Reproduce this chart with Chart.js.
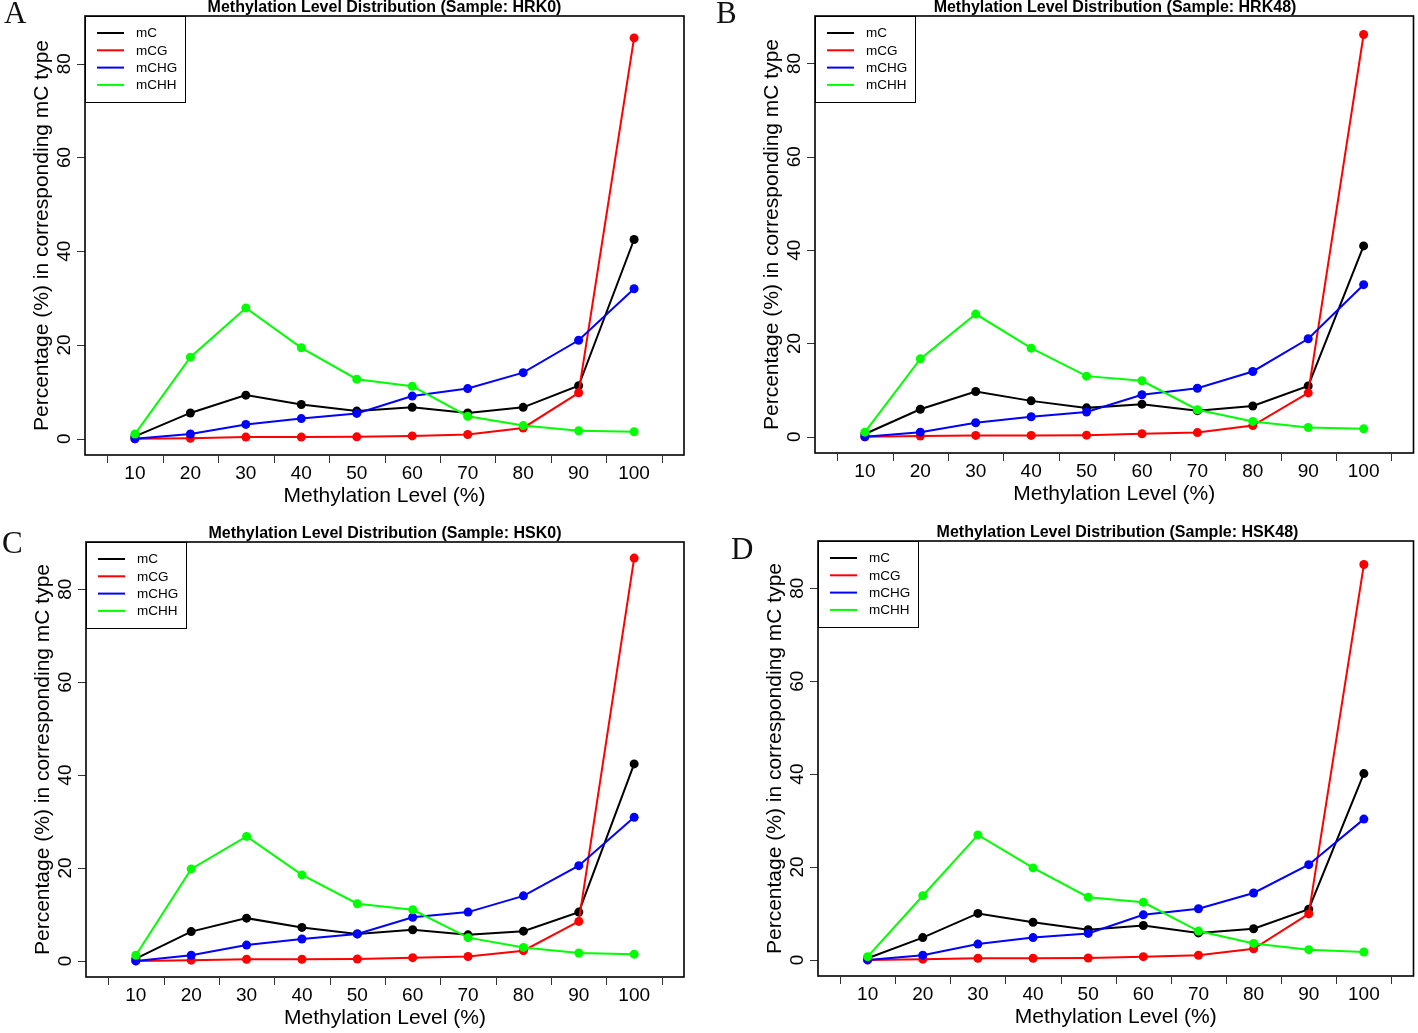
<!DOCTYPE html>
<html>
<head>
<meta charset="utf-8">
<script src="https://cdn.jsdelivr.net/npm/chart.js@4.4.1/dist/chart.umd.min.js"></script>
<style>
  html, body { margin: 0; padding: 0; background: #fff; }
  #wrap { position: relative; width: 1418px; height: 1033px; overflow: hidden; background: #fff; }
  #wrap canvas { position: absolute; }
</style>
</head>
<body>
<div id="wrap"></div>
<script>
// methylation level bins (x axis)
const levels = [10, 20, 30, 40, 50, 60, 70, 80, 90, 100];
const seriesNames = ['mC', 'mCG', 'mCHG', 'mCHH'];
const seriesColors = ['#000000', '#ff0000', '#0000ff', '#00ff00'];
const yTicks = [0, 20, 40, 60, 80];

// Sample HRK0
const hrk0MC   = [0.5, 5.5, 9.3, 7.3, 5.9, 6.7, 5.5, 6.7, 11.3, 42.5];
const hrk0MCG  = [0.0, 0.1, 0.35, 0.35, 0.4, 0.6, 0.9, 2.3, 9.8, 85.5];
const hrk0MCHG = [0.0, 1.0, 3.05, 4.3, 5.4, 9.1, 10.7, 14.1, 21.0, 32.0];
const hrk0MCHH = [1.0, 17.4, 27.9, 19.4, 12.7, 11.2, 4.8, 2.8, 1.7, 1.5];

// Sample HRK48
const hrk48MC   = [0.6, 5.9, 9.7, 7.7, 6.2, 7.0, 5.6, 6.6, 10.9, 40.9];
const hrk48MCG  = [0.0, 0.15, 0.3, 0.3, 0.35, 0.65, 0.9, 2.4, 9.4, 86.2];
const hrk48MCHG = [0.0, 1.0, 3.0, 4.3, 5.3, 9.0, 10.4, 14.0, 21.0, 32.6];
const hrk48MCHH = [1.0, 16.7, 26.3, 19.0, 13.0, 12.0, 5.8, 3.3, 2.0, 1.7];

// Sample HSK0
const hsk0MC   = [0.5, 6.3, 9.2, 7.2, 5.8, 6.7, 5.6, 6.4, 10.5, 42.4];
const hsk0MCG  = [0.0, 0.15, 0.35, 0.35, 0.4, 0.7, 0.95, 2.2, 8.5, 86.7];
const hsk0MCHG = [0.0, 1.2, 3.4, 4.7, 5.8, 9.4, 10.5, 14.0, 20.5, 30.9];
const hsk0MCHH = [1.2, 19.8, 26.8, 18.5, 12.3, 11.0, 5.0, 2.9, 1.7, 1.45];

// Sample HSK48
const hsk48MC   = [0.35, 4.8, 10.0, 8.1, 6.5, 7.4, 5.8, 6.7, 10.9, 40.1];
const hsk48MCG  = [0.0, 0.15, 0.35, 0.35, 0.4, 0.7, 1.0, 2.4, 9.9, 85.1];
const hsk48MCHG = [0.0, 1.0, 3.4, 4.8, 5.7, 9.7, 11.0, 14.4, 20.5, 30.3];
const hsk48MCHH = [0.7, 13.8, 26.9, 19.8, 13.5, 12.4, 6.2, 3.55, 2.2, 1.7];

// page layout of the four panels (canvas rect and plot box, in page pixels)
const panels = [
  { letter: 'A', sample: 'HRK0',  series: [hrk0MC, hrk0MCG, hrk0MCHG, hrk0MCHH],
    canvas: [0, 0, 709, 520],   box: [85, 16, 684, 455],   letterAt: [4, 23] },
  { letter: 'B', sample: 'HRK48', series: [hrk48MC, hrk48MCG, hrk48MCHG, hrk48MCHH],
    canvas: [709, 0, 709, 520], box: [815, 16, 1415, 453], letterAt: [7, 23] },
  { letter: 'C', sample: 'HSK0',  series: [hsk0MC, hsk0MCG, hsk0MCHG, hsk0MCHH],
    canvas: [0, 520, 709, 513], box: [86, 542, 684, 977], letterAt: [2, 33] },
  { letter: 'D', sample: 'HSK48', series: [hsk48MC, hsk48MCG, hsk48MCHG, hsk48MCHH],
    canvas: [709, 520, 709, 513], box: [818, 541, 1417, 976], letterAt: [22, 39] }
];

const SANS = '"Liberation Sans", Arial, Helvetica, sans-serif';
const TITLE_H = 16;

// R-style base graphics: box, outside ticks, rotated y labels, legend
const rStyle = {
  id: 'rStyle',
  afterDatasetsDraw(chart, args, opts) {
    const { ctx, chartArea: a, scales: { x, y } } = chart;
    ctx.save();

    // x tick marks sit between the bins
    ctx.strokeStyle = '#333';
    ctx.lineWidth = 1;
    const step = levels[1] - levels[0];
    const edges = [levels[0] - step / 2].concat(levels.map((v, i) =>
      i < levels.length - 1 ? (v + levels[i + 1]) / 2 : v + step / 2));
    ctx.beginPath();
    edges.forEach(v => {
      const px = Math.round(x.getPixelForValue(v)) + 0.5;
      ctx.moveTo(px, a.bottom + 1);
      ctx.lineTo(px, a.bottom + 8);
    });
    // y tick marks
    yTicks.forEach(v => {
      const py = Math.round(y.getPixelForValue(v)) + 0.5;
      ctx.moveTo(a.left - 8, py);
      ctx.lineTo(a.left, py);
    });
    ctx.stroke();

    // plot box
    ctx.strokeStyle = '#000';
    ctx.lineWidth = 1.6;
    ctx.strokeRect(a.left, a.top, a.width, a.height);

    // x tick labels + title
    ctx.fillStyle = '#000';
    ctx.textAlign = 'center';
    ctx.textBaseline = 'middle';
    ctx.font = '19px ' + SANS;
    levels.forEach(v => ctx.fillText(String(v), x.getPixelForValue(v), a.bottom + 19));
    ctx.font = '21px ' + SANS;
    ctx.fillText('Methylation Level (%)', (a.left + a.right) / 2, a.bottom + 41);

    // y tick labels (rotated, as in R's default las = 0)
    ctx.font = '19px ' + SANS;
    yTicks.forEach(v => {
      ctx.save();
      ctx.translate(a.left - 20, y.getPixelForValue(v));
      ctx.rotate(-Math.PI / 2);
      ctx.fillText(String(v), 0, 0);
      ctx.restore();
    });
    ctx.save();
    ctx.font = '21px ' + SANS;
    ctx.translate(a.left - 43, (a.top + a.bottom) / 2);
    ctx.rotate(-Math.PI / 2);
    ctx.fillText('Percentage (%) in corresponding mC type', 0, 0);
    ctx.restore();

    // legend in the top-left corner
    const lw = 100, lh = 86;
    ctx.fillStyle = '#fff';
    ctx.fillRect(a.left, a.top, lw, lh);
    ctx.strokeStyle = '#000';
    ctx.lineWidth = 1;
    ctx.strokeRect(a.left + 0.5, a.top + 0.5, lw, lh);
    ctx.font = '13.5px ' + SANS;
    ctx.textAlign = 'left';
    seriesNames.forEach((name, i) => {
      const ly = a.top + 17 + i * 17.3;
      ctx.strokeStyle = seriesColors[i];
      ctx.lineWidth = 2;
      ctx.beginPath();
      ctx.moveTo(a.left + 12, ly);
      ctx.lineTo(a.left + 39, ly);
      ctx.stroke();
      ctx.fillStyle = '#000';
      ctx.fillText(name, a.left + 51, ly + 0.5);
    });

    // panel letter
    ctx.font = '31px "Liberation Serif", "Times New Roman", serif';
    ctx.textBaseline = 'alphabetic';
    ctx.fillStyle = '#111';
    ctx.fillText(opts.letter, opts.letterAt[0], opts.letterAt[1]);
    ctx.restore();
  }
};

const wrap = document.getElementById('wrap');
panels.forEach(p => {
  const [cl, ct, cw, ch] = p.canvas;
  const [bl, bt, br, bb] = p.box;
  const canvas = document.createElement('canvas');
  canvas.width = cw;
  canvas.height = ch;
  canvas.style.left = cl + 'px';
  canvas.style.top = ct + 'px';
  canvas.style.width = cw + 'px';
  canvas.style.height = ch + 'px';
  wrap.appendChild(canvas);

  new Chart(canvas.getContext('2d'), {
    type: 'line',
    data: {
      datasets: seriesNames.map((name, i) => ({
        label: name,
        data: levels.map((lv, k) => ({ x: lv, y: p.series[i][k] })),
        borderColor: seriesColors[i],
        backgroundColor: seriesColors[i],
        borderWidth: 2,
        pointRadius: 4.5,
        pointBorderWidth: 0,
        pointHoverRadius: 4.5,
        tension: 0,
        fill: false,
        order: seriesNames.length - 1 - i
      }))
    },
    options: {
      responsive: false,
      animation: false,
      devicePixelRatio: 1,
      layout: {
        padding: {
          left: bl - cl,
          top: bt - ct - TITLE_H,
          right: cl + cw - br,
          bottom: ct + ch - bb
        }
      },
      scales: {
        x: { type: 'linear', min: 1, max: 109, display: false },
        y: { type: 'linear', min: -3.47, max: 90.17, display: false }
      },
      plugins: {
        legend: { display: false },
        tooltip: { enabled: false },
        title: {
          display: true,
          text: 'Methylation Level Distribution (Sample: ' + p.sample + ')',
          color: '#000',
          font: { family: SANS, size: 16, weight: 'bold', lineHeight: 1 },
          padding: 0
        },
        rStyle: { letter: p.letter, letterAt: p.letterAt }
      }
    },
    plugins: [rStyle]
  });
});
</script>
</body>
</html>
